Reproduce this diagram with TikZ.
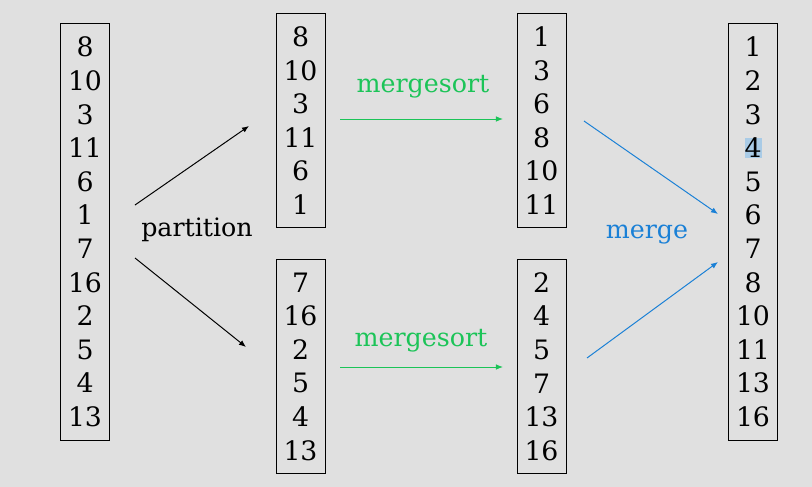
\documentclass[tikz,border=0pt]{standalone}
\usepackage{fontspec}
\setmainfont{DejaVu Serif}
\usepackage{xcolor}
\usepackage{tikz}
\usetikzlibrary{arrows.meta}
\definecolor{slidegray}{HTML}{E0E0E0}
\definecolor{sortgreen}{HTML}{1CC458}
\definecolor{mergeblue}{HTML}{1A80D6}
\definecolor{selblue}{HTML}{A9CBE6}

\tikzset{
  numcol/.style={draw=black, line width=0.7pt, minimum width=1.225cm, inner xsep=0pt,
                 align=center, font=\fontsize{19}{23.9}\selectfont},
  shortcol/.style={numcol, minimum height=5.325cm},
  longcol/.style={numcol, minimum height=10.4cm},
  steplabel/.style={font=\fontsize{18}{21}\selectfont},
  steparrow/.style={line width=0.7pt, -{Latex[length=5pt, width=4pt]}}
}

\begin{document}
\begin{tikzpicture}[x=0.025cm, y=-0.025cm]
    \fill[slidegray] (0,0) rectangle (812,487);
    \useasboundingbox (0,0) rectangle (812,487);

    % columns of numbers
    \node[longcol] (unsorted) at (85,232) {8\\10\\3\\11\\6\\1\\7\\16\\2\\5\\4\\13};
    \node[shortcol] (tophalf) at (300.5,120.5) {8\\10\\3\\11\\6\\1};
    \node[shortcol] (bothalf) at (300.5,366.5) {7\\16\\2\\5\\4\\13};
    \node[shortcol] (topsorted) at (541.5,120.5) {1\\3\\6\\8\\10\\11};
    \node[shortcol] (botsorted) at (541.5,366.5) {2\\4\\5\\7\\13\\16};
    \node[longcol] (merged) at (753,232)
      {1\\2\\3\\{\fboxsep=0pt\colorbox{selblue}{4}}\\5\\6\\7\\8\\10\\11\\13\\16};

    % arrow ends
    \coordinate (splitA) at (135,205);
    \coordinate (splitB) at (249,126);
    \coordinate (splitC) at (135,258);
    \coordinate (splitD) at (246,347);
    \coordinate (sortA) at (340,119);
    \coordinate (sortB) at (503,119);
    \coordinate (sortC) at (340,367);
    \coordinate (sortD) at (503,367);
    \coordinate (mergeA) at (584,121);
    \coordinate (mergeB) at (718,214);
    \coordinate (mergeC) at (587,358);
    \coordinate (mergeD) at (718,262);

    \draw[steparrow] (splitA) -- (splitB);
    \draw[steparrow] (splitC) -- (splitD);
    \draw[steparrow, sortgreen] (sortA) -- (sortB);
    \draw[steparrow, sortgreen] (sortC) -- (sortD);
    \draw[steparrow, mergeblue] (mergeA) -- (mergeB);
    \draw[steparrow, mergeblue] (mergeC) -- (mergeD);

    \node[steplabel] (partlabel) at (197,230) {partition};
    \node[steplabel, text=sortgreen] (toplabel) at (423,87) {mergesort};
    \node[steplabel, text=sortgreen] (botlabel) at (421,341) {mergesort};
    \node[steplabel, text=mergeblue] (mergelabel) at (647,235) {merge};
  \end{tikzpicture}
\end{document}
